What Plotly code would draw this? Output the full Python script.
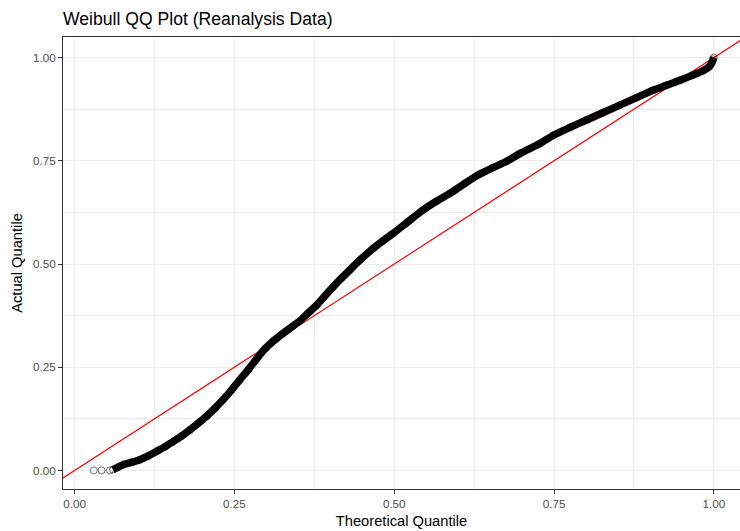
import plotly.graph_objects as go

# Values (theoretical quantile, actual quantile)
theoretical = [
    0.030, 0.042, 0.055,
    0.060, 0.068, 0.076, 0.090, 0.102, 0.115, 0.128, 0.141, 0.154, 0.167,
    0.180, 0.193, 0.206, 0.219, 0.232, 0.245, 0.258, 0.272, 0.285, 0.298,
    0.312, 0.326, 0.340, 0.352, 0.365, 0.379, 0.391, 0.404, 0.417, 0.430,
    0.448, 0.467, 0.482, 0.498, 0.521, 0.545, 0.566, 0.587, 0.610, 0.634,
    0.655, 0.676, 0.697, 0.728, 0.749, 0.775, 0.801, 0.827, 0.853, 0.879,
    0.905, 0.926, 0.947, 0.966, 0.984, 0.993, 0.997, 0.999, 1.000,
]
actual = [
    0.000, 0.000, 0.000,
    0.002, 0.008, 0.014, 0.020, 0.026, 0.035, 0.046, 0.057, 0.070, 0.083,
    0.098, 0.114, 0.131, 0.150, 0.171, 0.194, 0.219, 0.245, 0.271, 0.295,
    0.315, 0.332, 0.348, 0.362, 0.381, 0.401, 0.422, 0.444, 0.465, 0.485,
    0.512, 0.538, 0.556, 0.574, 0.602, 0.631, 0.652, 0.671, 0.695, 0.718,
    0.734, 0.749, 0.768, 0.792, 0.812, 0.831, 0.849, 0.867, 0.885, 0.903,
    0.921, 0.933, 0.945, 0.957, 0.969, 0.978, 0.988, 0.996, 1.000,
]
n_sparse = 3  # isolated points at the lower tail

ref_line = [-0.1, 1.2]  # reference line y = x

tick_vals = [0.0, 0.25, 0.5, 0.75, 1.0]
tick_text = ["0.00", "0.25", "0.50", "0.75", "1.00"]

FONT = "Liberation Sans, Arial, Helvetica, sans-serif"

fig = go.Figure()

# reference line (drawn first, points sit on top of it)
fig.add_trace(go.Scatter(
    x=ref_line, y=ref_line, mode="lines",
    line=dict(color="#FF0000", width=1.2), hoverinfo="skip", showlegend=False,
))
# dense band of overlapping points
fig.add_trace(go.Scatter(
    x=theoretical[n_sparse:], y=actual[n_sparse:], mode="lines",
    line=dict(color="black", width=7.5, shape="spline", smoothing=0.8),
    hoverinfo="skip", showlegend=False,
))
# individual points
fig.add_trace(go.Scatter(
    x=theoretical, y=actual, mode="markers",
    marker=dict(symbol="circle-open", size=7, color="rgba(0,0,0,0.55)",
                line=dict(width=1)),
    showlegend=False,
))

axis_common = dict(
    tickvals=tick_vals, ticktext=tick_text,
    ticks="outside", ticklen=4, tickwidth=1, tickcolor="#333333",
    tickfont=dict(family=FONT, size=11.7, color="#4D4D4D"),
    showgrid=True, gridcolor="#EBEBEB", gridwidth=1.1,
    zeroline=False, showline=True, linecolor="#333333", linewidth=1,
)

fig.update_layout(
    width=740, height=531,
    margin=dict(l=63, r=0, t=37, b=42),
    paper_bgcolor="white", plot_bgcolor="white",
    title=dict(text="Weibull QQ Plot (Reanalysis Data)",
               font=dict(family=FONT, size=17.6, color="black"),
               xref="paper", x=0, xanchor="left",
               yref="container", y=1 - 18.5 / 531, yanchor="middle"),
    xaxis=dict(range=[-0.0183, 1.041], mirror=True,
               title=dict(text="Theoretical Quantile", standoff=6,
                          font=dict(family=FONT, size=14.7, color="black")),
               minor=dict(dtick=0.125, tick0=0, showgrid=True,
                          gridcolor="#EBEBEB", gridwidth=0.55),
               **axis_common),
    yaxis=dict(range=[-0.045, 1.05], mirror=False,
               title=dict(text="Actual Quantile", standoff=6,
                          font=dict(family=FONT, size=14.7, color="black")),
               minor=dict(dtick=0.125, tick0=0, showgrid=True,
                          gridcolor="#EBEBEB", gridwidth=0.55),
               **axis_common),
)

fig.write_html("out.html")
